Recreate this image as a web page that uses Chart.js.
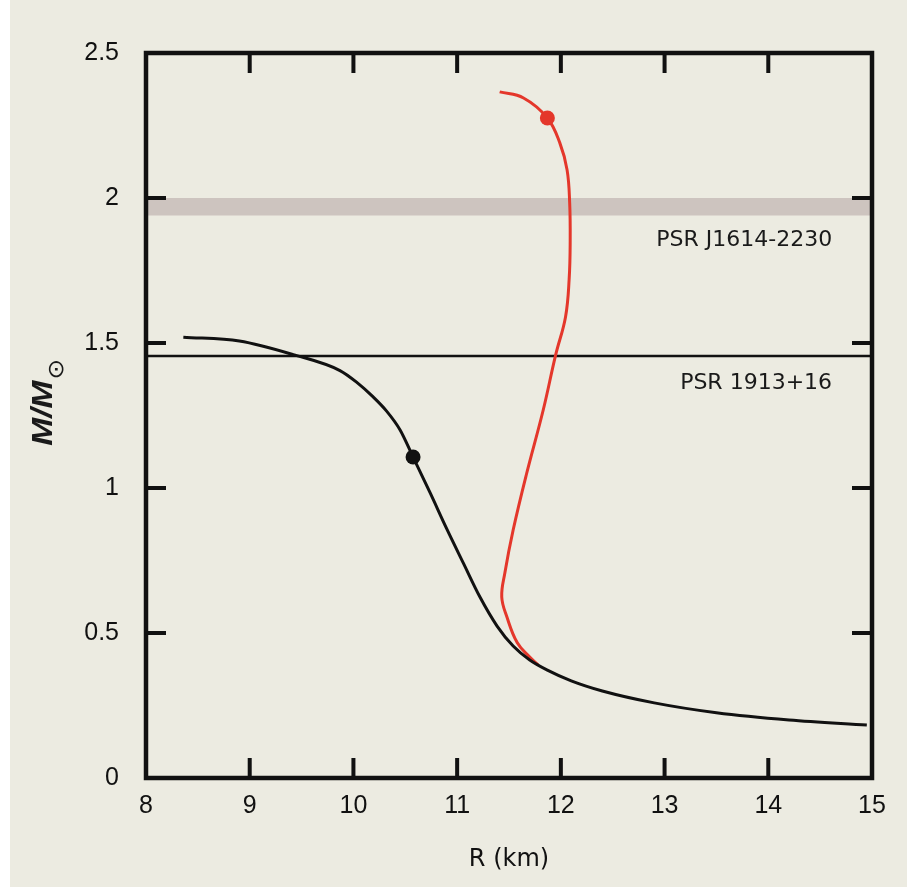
<!DOCTYPE html>
<html>
<head>
<meta charset="utf-8">
<script src="https://cdn.jsdelivr.net/npm/chart.js@4.4.0/dist/chart.umd.min.js"></script>
<style>
  html, body { margin: 0; padding: 0; background: #ecebe1; }
  #wrap { width: 907px; height: 887px; }
</style>
</head>
<body>
<div id="wrap"><canvas id="mr" width="907" height="887"></canvas></div>
<script>
// axis ticks
var xTicks = [8, 9, 10, 11, 12, 13, 14, 15];
var yTicks = [0, 0.5, 1, 1.5, 2, 2.5];

// black mass-radius curve (R in km, M in solar masses)
var blackR = [8.36, 8.9, 9.42, 9.87, 10.03, 10.19, 10.32, 10.45, 10.575, 10.74, 10.9, 11.06, 11.22, 11.385, 11.54, 11.7, 11.87, 12.1, 12.4, 12.9, 13.5, 14.2, 14.95];
var blackM = [1.52, 1.507, 1.46, 1.405, 1.365, 1.314, 1.265, 1.2, 1.107, 0.983, 0.859, 0.741, 0.624, 0.524, 0.455, 0.407, 0.372, 0.335, 0.3, 0.259, 0.225, 0.2, 0.183];

// red mass-radius curve
var redR = [11.41, 11.64, 11.87, 11.99, 12.06, 12.085, 12.09, 12.08, 12.045, 11.95, 11.83, 11.67, 11.54, 11.46, 11.43, 11.48, 11.58, 11.7, 11.78];
var redM = [2.366, 2.345, 2.276, 2.19, 2.097, 1.983, 1.85, 1.72, 1.59, 1.459, 1.269, 1.05, 0.855, 0.707, 0.624, 0.555, 0.466, 0.417, 0.39];

// marked points
var redDot = [11.87, 2.276];
var blackDot = [10.575, 1.107];

// observed pulsar masses
var psrJ1614 = [1.94, 2.0];   // band
var psr1913 = 1.455;          // line
var psrNames = ['PSR J1614-2230', 'PSR 1913+16'];
var psrLabelPos = [[12.92, 1.855], [13.15, 1.362]];

function pts(xs, ys) {
    return xs.map(function(x, i) { return { x: x, y: ys[i] }; });
}

var frame = {
    id: 'frame',
    beforeDraw: function(chart) {
        var ctx = chart.ctx;
        ctx.save();
        ctx.fillStyle = '#ecebe1';
        ctx.fillRect(0, 0, chart.width, chart.height);
        ctx.fillStyle = '#ffffff';
        ctx.fillRect(0, 0, 10, chart.height);
        ctx.restore();
    },
    afterDatasetsDraw: function(chart) {
        var ctx = chart.ctx, a = chart.chartArea;
        var xs = chart.scales.x, ys = chart.scales.y;
        ctx.save();
        ctx.strokeStyle = '#111';
        // inward ticks on all four sides
        ctx.lineWidth = 4;
        ctx.beginPath();
        xTicks.forEach(function(v) {
            var px = xs.getPixelForValue(v);
            ctx.moveTo(px, a.bottom); ctx.lineTo(px, a.bottom - 20);
            ctx.moveTo(px, a.top); ctx.lineTo(px, a.top + 20);
        });
        yTicks.forEach(function(v) {
            var py = ys.getPixelForValue(v);
            ctx.moveTo(a.left, py); ctx.lineTo(a.left + 20, py);
            ctx.moveTo(a.right, py); ctx.lineTo(a.right - 20, py);
        });
        ctx.stroke();
        ctx.lineWidth = 4.5;
        ctx.strokeRect(a.left, a.top, a.right - a.left, a.bottom - a.top);

        // pulsar labels
        ctx.fillStyle = '#1a1a1a';
        ctx.font = '22px "DejaVu Sans"';
        ctx.textBaseline = 'middle';
        ctx.textAlign = 'left';
        psrNames.forEach(function(t, i) {
            ctx.fillText(t, xs.getPixelForValue(psrLabelPos[i][0]), ys.getPixelForValue(psrLabelPos[i][1]));
        });

        // y axis title M/M_sun
        ctx.translate(52, 402);
        ctx.rotate(-Math.PI / 2);
        ctx.scale(1.12, 1);
        ctx.font = 'italic bold 30px "Liberation Sans"';
        ctx.textBaseline = 'alphabetic';
        ctx.textAlign = 'left';
        var w = ctx.measureText('M/M').width;
        ctx.fillText('M/M', -w / 2 - 10, 0);
        ctx.font = '22px "DejaVu Sans"';
        ctx.fillText('\u2299', w / 2 - 9, 11);
        ctx.restore();
    }
};

var ctx = document.getElementById('mr').getContext('2d');
var chart = new Chart(ctx, {
    type: 'scatter',
    data: {
        datasets: [
            { data: [{ x: 8, y: psrJ1614[0] }, { x: 15, y: psrJ1614[0] }], showLine: true, borderWidth: 0, pointRadius: 0, fill: false, order: 6 },
            { data: [{ x: 8, y: psrJ1614[1] }, { x: 15, y: psrJ1614[1] }], showLine: true, borderWidth: 0, pointRadius: 0, fill: '-1', backgroundColor: '#cdc4bf', order: 5 },
            { data: [{ x: 8, y: psr1913 }, { x: 15, y: psr1913 }], showLine: true, borderColor: '#111', borderWidth: 2.5, pointRadius: 0, order: 4 },
            { data: pts(redR, redM), showLine: true, borderColor: '#e4372b', borderWidth: 3, pointRadius: 0, tension: 0.4, order: 3 },
            { data: pts(blackR, blackM), showLine: true, borderColor: '#111', borderWidth: 3, pointRadius: 0, cubicInterpolationMode: 'monotone', order: 2 },
            { data: [{ x: redDot[0], y: redDot[1] }], pointRadius: 7.5, pointBackgroundColor: '#e4372b', pointBorderWidth: 0, order: 1 },
            { data: [{ x: blackDot[0], y: blackDot[1] }], pointRadius: 7.5, pointBackgroundColor: '#111', pointBorderWidth: 0, order: 1 }
        ]
    },
    options: {
        responsive: false,
        animation: false,
        layout: { padding: { top: 53, right: 35, left: 0, bottom: 0 } },
        plugins: { legend: { display: false }, tooltip: { enabled: false } },
        scales: {
            x: {
                type: 'linear', min: 8, max: 15,
                afterFit: function(s) { s.height = 109; },
                afterBuildTicks: function(s) { s.ticks = xTicks.map(function(v) { return { value: v }; }); },
                grid: { display: false },
                border: { display: false },
                ticks: { padding: 5, color: '#111', font: { family: 'Liberation Sans', size: 25 }, callback: function(v) { return String(v); } },
                title: { display: true, text: 'R (km)', color: '#111', font: { family: 'DejaVu Sans', size: 24 }, padding: { top: 0, bottom: 13 } }
            },
            y: {
                type: 'linear', min: 0, max: 2.5,
                afterFit: function(s) { s.width = 146; },
                afterBuildTicks: function(s) { s.ticks = yTicks.map(function(v) { return { value: v }; }); },
                grid: { display: false },
                border: { display: false },
                ticks: { padding: 19, color: '#111', font: { family: 'Liberation Sans', size: 25 }, callback: function(v) { return String(v); } }
            }
        }
    },
    plugins: [frame]
});
</script>
</body>
</html>
